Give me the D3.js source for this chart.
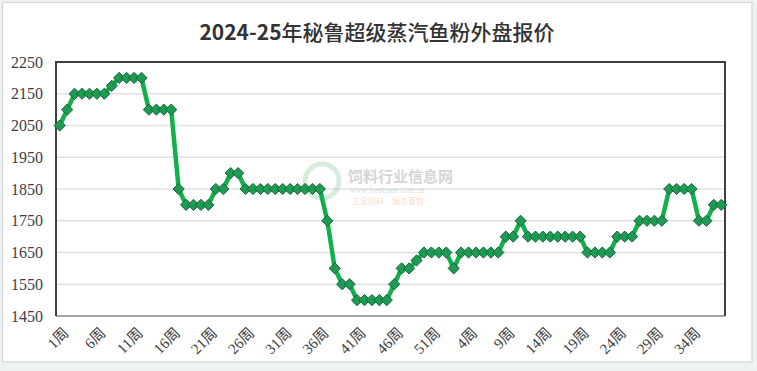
<!DOCTYPE html>
<html>
<head>
<meta charset="utf-8">
<script src="https://cdn.jsdelivr.net/npm/d3@7"></script>
<style>
  body { margin: 0; background: #eef2f2; }
  svg { display: block; }
</style>
</head>
<body>
<div id="chart"></div>
<script>
// Weekly prices, 2024 weeks 1-52 then 2025 weeks 1-38
var prices2024 = [2050, 2100, 2150, 2150, 2150, 2150, 2150, 2175, 2200, 2200, 2200, 2200, 2100, 2100, 2100, 2100,
  1850, 1800, 1800, 1800, 1800, 1850, 1850, 1900, 1900, 1850, 1850, 1850, 1850, 1850, 1850, 1850, 1850, 1850, 1850, 1850,
  1750, 1600, 1550, 1550, 1500, 1500, 1500, 1500, 1500, 1550, 1600, 1600, 1625, 1650, 1650, 1650];
var prices2025 = [1650, 1600, 1650, 1650, 1650, 1650, 1650, 1650, 1700, 1700, 1750,
  1700, 1700, 1700, 1700, 1700, 1700, 1700, 1700, 1650, 1650, 1650, 1650, 1700, 1700, 1700,
  1750, 1750, 1750, 1750, 1850, 1850, 1850, 1850, 1750, 1750, 1800, 1800];
var yTicks = [1450, 1550, 1650, 1750, 1850, 1950, 2050, 2150, 2250];
var title = "2024-25年秘鲁超级蒸汽鱼粉外盘报价";

var weekLabels = prices2024.map(function (d, i) { return (i + 1) + "周"; })
  .concat(prices2025.map(function (d, i) { return (i + 1) + "周"; }));
var values = prices2024.concat(prices2025);
var data = values.map(function (v, i) { return { idx: i, label: weekLabels[i], value: v }; });

var width = 757, height = 371;
var margin = { top: 62, right: 32, bottom: 55, left: 56 };
var serif = "'Liberation Serif', 'DejaVu Serif', 'Noto Sans CJK SC', serif";

var svg = d3.select("#chart").append("svg")
  .attr("width", width)
  .attr("height", height);

// outer chart frame
svg.append("rect")
  .attr("x", 2.5).attr("y", 2.5)
  .attr("width", 749.5).attr("height", 359.5)
  .attr("fill", "#ffffff")
  .attr("stroke", "#d4d8d8")
  .attr("stroke-width", 1.2);

var xScale = d3.scaleBand()
  .domain(data.map(function (d) { return d.idx; }))
  .range([margin.left, width - margin.right]);

var yScale = d3.scaleLinear()
  .domain([1450, 2250])
  .range([height - margin.bottom, margin.top]);

// gridlines
svg.append("g")
  .selectAll("line")
  .data(yTicks)
  .enter().append("line")
  .attr("x1", margin.left).attr("x2", width - margin.right)
  .attr("y1", function (d) { return yScale(d); })
  .attr("y2", function (d) { return yScale(d); })
  .attr("stroke", "#e0e0e0")
  .attr("stroke-width", 1.5);

// watermark
var wm = svg.append("g").attr("opacity", 0.35);
wm.append("circle").attr("cx", 322).attr("cy", 181).attr("r", 17)
  .attr("fill", "none").attr("stroke", "#8cc9a0").attr("stroke-width", 5);
wm.append("text").attr("x", 348).attr("y", 182)
  .style("font-family", "'Noto Sans CJK SC'").style("font-size", "15px").style("font-weight", "bold")
  .attr("fill", "#8a8a8a").text("饲料行业信息网");
wm.append("text").attr("x", 350).attr("y", 193)
  .style("font-family", "'Liberation Serif'").style("font-size", "8px")
  .attr("fill", "#9a9a9a").text("www.feedtrade.com.cn");
wm.append("text").attr("x", 352).attr("y", 204)
  .style("font-family", "'Noto Sans CJK SC'").style("font-size", "8px")
  .attr("fill", "#f0a060").text("立足饲料　服务畜牧");

// y axis labels
var yAxis = svg.append("g")
  .attr("font-family", serif)
  .attr("transform", "translate(" + margin.left + ",0)")
  .call(d3.axisLeft(yScale).tickValues(yTicks).tickFormat(d3.format("d")).tickSize(0).tickPadding(13));
yAxis.select(".domain").remove();
yAxis.selectAll("text")
  .style("font-family", serif)
  .style("font-size", "16px")
  .attr("fill", "#404040");

// x axis labels, every 5th week
var xAxis = svg.append("g")
  .attr("font-family", serif)
  .attr("transform", "translate(0," + (height - margin.bottom) + ")")
  .call(d3.axisBottom(xScale)
    .tickValues(data.filter(function (d) { return d.idx % 5 === 0; }).map(function (d) { return d.idx; }))
    .tickFormat(function (i) { return weekLabels[i]; })
    .tickSize(0));
xAxis.select(".domain").remove();
xAxis.selectAll("text")
  .style("font-family", serif)
  .style("font-size", "15px")
  .attr("fill", "#404040")
  .style("text-anchor", "end")
  .attr("dy", "0.35em")
  .attr("transform", "translate(4,12) rotate(-45)");

// plot frame
var pl = margin.left, pr = width - margin.right, pt = margin.top, pb = height - margin.bottom;
svg.append("line").attr("x1", pl).attr("x2", pr).attr("y1", pb).attr("y2", pb)
  .attr("stroke", "#a6a6a6").attr("stroke-width", 2);
svg.append("path")
  .attr("d", "M" + pl + "," + pb + "V" + pt + "H" + pr + "V" + pb)
  .attr("fill", "none")
  .attr("stroke", "#404040")
  .attr("stroke-width", 2);

// price line
var line = d3.line()
  .x(function (d) { return xScale(d.idx) + xScale.bandwidth() / 2; })
  .y(function (d) { return yScale(d.value); });

svg.append("path")
  .datum(data)
  .attr("fill", "none")
  .attr("stroke", "#12b04c")
  .attr("stroke-width", 4.5)
  .attr("stroke-linejoin", "round")
  .attr("d", line);

// diamond markers
svg.selectAll(".marker")
  .data(data)
  .enter().append("path")
  .attr("class", "marker")
  .attr("d", d3.symbol().type(d3.symbolDiamond2).size(80))
  .attr("transform", function (d) {
    return "translate(" + (xScale(d.idx) + xScale.bandwidth() / 2) + "," + yScale(d.value) + ")";
  })
  .attr("fill", "#1e9a52")
  .attr("stroke", "#13683a")
  .attr("stroke-width", 1);

// title
var t = svg.append("text")
  .attr("x", 377)
  .attr("y", 40)
  .attr("text-anchor", "middle")
  .style("font-family", "'Noto Sans CJK SC', 'Noto Sans', sans-serif")
  .style("font-size", "21px")
  .attr("fill", "#333333");
t.append("tspan").style("font-weight", "bold").text(title.slice(0, 7));
t.append("tspan").style("font-weight", "500").text(title.slice(7));
</script>
</body>
</html>
